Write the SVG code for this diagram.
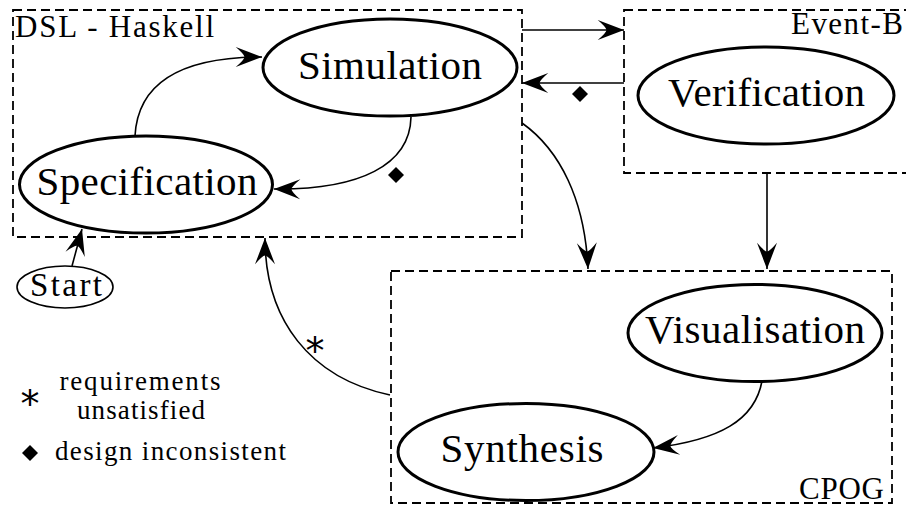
<svg xmlns="http://www.w3.org/2000/svg" width="906" height="506" viewBox="0 0 906 506">
<style>
text{font-family:'Liberation Serif','DejaVu Serif',serif;fill:#000}
.box{fill:none;stroke:#000;stroke-width:1.8;stroke-dasharray:9,5}
.node{fill:#fff;stroke:#000;stroke-width:3}
.lbl{font-size:41px;text-anchor:middle}
.edge{fill:none;stroke:#000;stroke-width:1.6;marker-end:url(#arr)}
.title{font-size:31px}
.leg{font-size:27px}
.ast{font-family:'DejaVu Sans',sans-serif;font-size:38px;text-anchor:middle}
</style>
<defs>
<marker id="arr" markerUnits="userSpaceOnUse" markerWidth="30" markerHeight="30" viewBox="-22 -10 24 20" refX="0" refY="0" orient="auto">
<path d="M0,0 L-21,-8 Q-14,-2 -14,0 Q-14,2 -21,8 Z" fill="#000"/>
</marker>
</defs>
<rect width="906" height="506" fill="#fff"/>
<g id="dsl">
<rect class="box" x="13" y="10" width="509" height="227"/>
<text class="title" x="15" y="37" textLength="199" lengthAdjust="spacing">DSL - Haskell</text>
</g>
<g id="eventb">
<rect class="box" x="624" y="10" width="300" height="163"/>
<text class="title" x="791" y="34" textLength="112" lengthAdjust="spacing">Event-B</text>
</g>
<g id="cpog">
<rect class="box" x="391" y="271" width="501" height="232"/>
<text class="title" x="799" y="499" textLength="85" lengthAdjust="spacing">CPOG</text>
</g>
<g id="connectors">
<path class="edge" d="M135,136 C138,80 185,57 262,57"/>
<path class="edge" d="M411,117 C410,165 360,190 274,189"/>
<path class="edge" d="M522,30 L624,30"/>
<path class="edge" d="M624,83 L522,83"/>
<path class="edge" d="M522,123 C560,150 585,200 588,269"/>
<path class="edge" d="M767,173 L767,269"/>
<path class="edge" d="M762,381 C755,420 720,440 653,448"/>
<path class="edge" d="M390,395 C310,378 265,320 265,238"/>
<path class="edge" d="M72,266 L82,229"/>
<path d="M396,167 L404,175 L396,183 L388,175 Z" fill="#000"/>
<path d="M580,86 L588,94 L580,102 L572,94 Z" fill="#000"/>
<text class="ast" x="315" y="364">*</text>
</g>
<g id="simulation">
<ellipse class="node" cx="390" cy="67.5" rx="127" ry="48.5"/>
<text class="lbl" x="390" y="78.5" textLength="184" lengthAdjust="spacing">Simulation</text>
</g>
<g id="specification">
<ellipse class="node" cx="146" cy="184.5" rx="126.5" ry="48.5"/>
<text class="lbl" x="147" y="195" textLength="221" lengthAdjust="spacing">Specification</text>
</g>
<g id="verification">
<ellipse class="node" cx="766" cy="95.5" rx="128" ry="48.5"/>
<text class="lbl" x="766.5" y="106" textLength="197" lengthAdjust="spacing">Verification</text>
</g>
<g id="visualisation">
<ellipse class="node" cx="755" cy="333" rx="127" ry="48.5"/>
<text class="lbl" x="755" y="343" textLength="220" lengthAdjust="spacing">Visualisation</text>
</g>
<g id="synthesis">
<ellipse class="node" cx="526" cy="452" rx="128" ry="48.5"/>
<text class="lbl" x="522" y="462" textLength="163" lengthAdjust="spacing">Synthesis</text>
</g>
<g id="start">
<ellipse fill="#fff" stroke="#000" stroke-width="1.6" cx="65" cy="287" rx="48" ry="21"/>
<text x="66" y="296" font-size="33" text-anchor="middle" textLength="72" lengthAdjust="spacing">Start</text>
</g>
<g id="legend">
<text class="ast" x="30" y="417">*</text>
<text class="leg" x="140" y="390" text-anchor="middle" textLength="161" lengthAdjust="spacing">requirements</text>
<text class="leg" x="141" y="419" text-anchor="middle" textLength="128" lengthAdjust="spacing">unsatisfied</text>
<path d="M30,445 L38,453 L30,461 L22,453 Z" fill="#000"/>
<text class="leg" x="55" y="460" textLength="231" lengthAdjust="spacing">design inconsistent</text>
</g>
</svg>
